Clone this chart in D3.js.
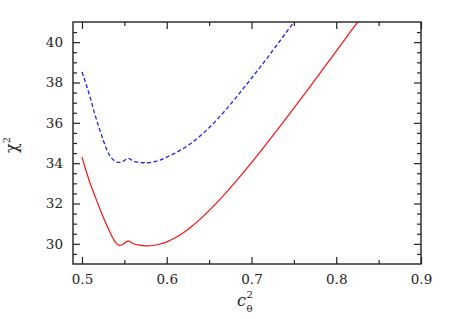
<!DOCTYPE html>
<html>
<head>
<meta charset="utf-8">
<script src="https://cdn.jsdelivr.net/npm/d3@7"></script>
<style>
  body { margin: 0; background: #fff; }
  svg text { font-family: 'DejaVu Serif', serif !important; }
</style>
</head>
<body>
<div id="visual"></div>
<script>
// c_theta^2 sample points and chi^2 values
const redX = [0.500, 0.505, 0.510, 0.515, 0.520, 0.525, 0.530, 0.535, 0.540, 0.544, 0.548, 0.5545,
  0.560, 0.566, 0.572, 0.578, 0.585, 0.592, 0.600, 0.610, 0.620, 0.630, 0.640, 0.650, 0.660, 0.670,
  0.680, 0.690, 0.700, 0.710, 0.720, 0.730, 0.740, 0.750, 0.760, 0.770, 0.780, 0.790, 0.800, 0.810,
  0.820, 0.830];
const redY = [34.3, 33.6, 32.95, 32.4, 31.85, 31.33, 30.85, 30.4, 30.05, 29.92, 29.97, 30.15,
  30.02, 29.95, 29.91, 29.9, 29.93, 29.99, 30.1, 30.3, 30.56, 30.88, 31.25, 31.65, 32.08, 32.54,
  33.02, 33.52, 34.03, 34.55, 35.09, 35.63, 36.18, 36.73, 37.29, 37.85, 38.42, 38.99, 39.56, 40.13,
  40.70, 41.27];

const blueX = [0.500, 0.505, 0.510, 0.515, 0.520, 0.525, 0.530, 0.535, 0.540, 0.545, 0.549, 0.5545,
  0.560, 0.566, 0.572, 0.578, 0.585, 0.592, 0.600, 0.610, 0.620, 0.630, 0.640, 0.650, 0.660, 0.670,
  0.680, 0.690, 0.700, 0.710, 0.720, 0.730, 0.740, 0.750, 0.760];
const blueY = [38.52, 37.9, 37.2, 36.45, 35.78, 35.15, 34.6, 34.25, 34.08, 34.04, 34.1, 34.24,
  34.12, 34.05, 34.02, 34.02, 34.07, 34.15, 34.3, 34.5, 34.74, 35.03, 35.37, 35.76, 36.19, 36.66,
  37.16, 37.68, 38.21, 38.75, 39.30, 39.86, 40.43, 41.0, 41.58];

const xMajor = [0.5, 0.6, 0.7, 0.8, 0.9];
const xMinor = [0.55, 0.65, 0.75, 0.85];
const yMajor = [30, 32, 34, 36, 38, 40];
const yMinor = [29.5, 30.5, 31, 31.5, 32.5, 33, 33.5, 34.5, 35, 35.5, 36.5, 37, 37.5, 38.5, 39, 39.5, 40.5];

const w = 454;
const h = 319;
const pLeft = 73, pRight = 421, pTop = 22, pBottom = 264;
const ink = "#222";

const svg = d3.select("#visual").append("svg")
  .attr("width", w)
  .attr("height", h);

const xScale = d3.scaleLinear().domain([0.4894, 0.9]).range([pLeft, pRight]);
const yScale = d3.scaleLinear().domain([29, 41]).range([pBottom, pTop]);

svg.append("clipPath").attr("id", "plotclip")
  .append("rect")
  .attr("x", pLeft).attr("y", pTop)
  .attr("width", pRight - pLeft).attr("height", pBottom - pTop);

// curves
const line = d3.line()
  .x(d => xScale(d[0]))
  .y(d => yScale(d[1]))
  .curve(d3.curveMonotoneX);

svg.append("path")
  .datum(blueX.map((x, i) => [x, blueY[i]]))
  .attr("clip-path", "url(#plotclip)")
  .attr("fill", "none")
  .attr("stroke", "#2020f0")
  .attr("stroke-width", 1.3)
  .attr("stroke-dasharray", "4,2.5")
  .attr("d", line);

svg.append("path")
  .datum(redX.map((x, i) => [x, redY[i]]))
  .attr("clip-path", "url(#plotclip)")
  .attr("fill", "none")
  .attr("stroke", "#ff1010")
  .attr("stroke-width", 1.2)
  .attr("d", line);

// axes with inward ticks on all four sides
function styleAxis(g) {
  g.attr("font-family", null);
  g.select(".domain").remove();
  g.selectAll(".tick line").attr("stroke", ink).attr("stroke-width", 1.2);
  g.selectAll("text")
    .style("font-size", "13.5px")
    .attr("fill", ink);
}

svg.append("g").attr("transform", "translate(0," + pBottom + ")")
  .call(d3.axisBottom(xScale).tickValues(xMajor).tickSize(-7).tickPadding(10).tickFormat(d3.format(".1f")))
  .call(styleAxis);
svg.append("g").attr("transform", "translate(0," + pBottom + ")")
  .call(d3.axisBottom(xScale).tickValues(xMinor).tickSize(-4).tickFormat(""))
  .call(styleAxis);
svg.append("g").attr("transform", "translate(0," + pTop + ")")
  .call(d3.axisTop(xScale).tickValues(xMajor).tickSize(-7).tickFormat(""))
  .call(styleAxis);
svg.append("g").attr("transform", "translate(0," + pTop + ")")
  .call(d3.axisTop(xScale).tickValues(xMinor).tickSize(-4).tickFormat(""))
  .call(styleAxis);

svg.append("g").attr("transform", "translate(" + pLeft + ",0)")
  .call(d3.axisLeft(yScale).tickValues(yMajor).tickSize(-7).tickPadding(10).tickFormat(d3.format("d")))
  .call(styleAxis);
svg.append("g").attr("transform", "translate(" + pLeft + ",0)")
  .call(d3.axisLeft(yScale).tickValues(yMinor).tickSize(-4).tickFormat(""))
  .call(styleAxis);
svg.append("g").attr("transform", "translate(" + pRight + ",0)")
  .call(d3.axisRight(yScale).tickValues(yMajor).tickSize(-7).tickFormat(""))
  .call(styleAxis);
svg.append("g").attr("transform", "translate(" + pRight + ",0)")
  .call(d3.axisRight(yScale).tickValues(yMinor).tickSize(-4).tickFormat(""))
  .call(styleAxis);

// frame
svg.append("rect")
  .attr("x", pLeft).attr("y", pTop)
  .attr("width", pRight - pLeft).attr("height", pBottom - pTop)
  .attr("fill", "none")
  .attr("stroke", ink)
  .attr("stroke-width", 1.4);

// y label: chi^2
const yl = svg.append("text")
  .attr("transform", "translate(17,145) rotate(-90)")
  .attr("text-anchor", "middle")
  .attr("fill", ink)
  .style("font-size", "16px");
yl.append("tspan").text("χ");
yl.append("tspan").attr("dy", -7).style("font-size", "10px").text("2");

// x label: c_theta^2
svg.append("text")
  .attr("x", 246).attr("y", 306)
  .attr("text-anchor", "end")
  .attr("fill", ink)
  .style("font-size", "16px")
  .style("font-style", "italic")
  .text("c");
svg.append("text")
  .attr("x", 246.5).attr("y", 298)
  .attr("fill", ink)
  .style("font-size", "10px")
  .text("2");
svg.append("text")
  .attr("x", 246.5).attr("y", 312)
  .attr("fill", ink)
  .style("font-size", "10px")
  .text("θ");
</script>
</body>
</html>
